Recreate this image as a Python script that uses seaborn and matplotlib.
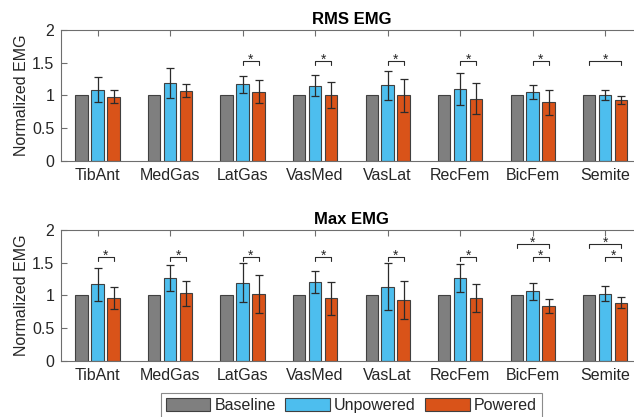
import pandas as pd
import matplotlib
matplotlib.use("Agg")
import matplotlib.pyplot as plt
import seaborn as sns

# =======================
# Data
# =======================
muscles = ["TibAnt", "MedGas", "LatGas", "VasMed", "VasLat", "RecFem", "BicFem", "Semite"]
conditions = ["Baseline", "Unpowered", "Powered"]

rms_baseline = [1, 1, 1, 1, 1, 1, 1, 1]
rms_unpowered = [1.09, 1.19, 1.17, 1.15, 1.155, 1.095, 1.06, 1.01]
rms_powered = [0.98, 1.07, 1.06, 1.005, 1.0, 0.95, 0.895, 0.93]
rms_unpowered_sd = [0.19, 0.23, 0.135, 0.165, 0.225, 0.245, 0.107, 0.08]
rms_powered_sd = [0.10, 0.10, 0.18, 0.20, 0.255, 0.235, 0.195, 0.06]

max_baseline = [1, 1, 1, 1, 1, 1, 1, 1]
max_unpowered = [1.17, 1.26, 1.195, 1.20, 1.13, 1.26, 1.06, 1.025]
max_powered = [0.96, 1.03, 1.02, 0.955, 0.93, 0.955, 0.84, 0.89]
max_unpowered_sd = [0.25, 0.20, 0.30, 0.17, 0.36, 0.215, 0.13, 0.115]
max_powered_sd = [0.17, 0.195, 0.295, 0.25, 0.295, 0.215, 0.11, 0.08]

# significance brackets: (muscle index, condition a, condition b, height)
rms_sig = [(2, 1, 2, 1.53), (3, 1, 2, 1.53), (4, 1, 2, 1.53), (5, 1, 2, 1.53),
           (6, 1, 2, 1.53), (7, 0, 2, 1.52)]
max_sig = [(0, 1, 2, 1.58), (1, 1, 2, 1.58), (2, 1, 2, 1.58), (3, 1, 2, 1.58),
           (4, 1, 2, 1.58), (5, 1, 2, 1.58), (6, 1, 2, 1.58), (6, 0, 2, 1.78),
           (7, 1, 2, 1.58), (7, 0, 2, 1.78)]

palette = ["#7f7f7f", "#4dbeee", "#d95319"]
text_col = "#262626"
axis_col = "#6e6e6e"

# =======================
# Style
# =======================
sns.set_style("ticks")
plt.rcParams["font.family"] = ["Liberation Sans", "DejaVu Sans"]
plt.rcParams["xtick.direction"] = "in"
plt.rcParams["ytick.direction"] = "in"


def long_form(base, unp, pwr):
    rows = []
    for vals, cond in zip([base, unp, pwr], conditions):
        for m, v in zip(muscles, vals):
            rows.append({"muscle": m, "condition": cond, "value": v})
    return pd.DataFrame(rows)


def draw_panel(ax, df, sds, sigs, title, legend):
    sns.barplot(data=df, x="muscle", y="value", hue="condition",
                order=muscles, hue_order=conditions, palette=palette,
                errorbar=None, width=0.66, gap=0.22, edgecolor="#404040",
                linewidth=0.8, saturation=1, legend=legend, ax=ax)

    # error bars on unpowered / powered bars
    for cont, sd in zip(ax.containers[1:], sds):
        xs = [p.get_x() + p.get_width() / 2 for p in cont.patches]
        ys = [p.get_height() for p in cont.patches]
        ax.errorbar(xs, ys, yerr=sd, fmt="none", ecolor="#2b2b2b",
                    elinewidth=0.9, capsize=3.2, capthick=0.9, zorder=5)

    # significance brackets
    for i, a, b, h in sigs:
        pa = ax.containers[a].patches[i]
        pb = ax.containers[b].patches[i]
        xa = pa.get_x() + pa.get_width() / 2
        xb = pb.get_x() + pb.get_width() / 2
        ax.plot([xa, xa, xb, xb], [h - 0.06, h, h, h - 0.06],
                color="#2b2b2b", lw=0.8)
        ax.text((xa + xb) / 2, h - 0.04, "*", ha="center", va="baseline",
                fontsize=10, color=text_col)

    ax.set_ylim(0, 2)
    ax.set_xlim(-0.5, 7.5)
    ax.set_yticks([0, 0.5, 1, 1.5, 2])
    ax.set_yticklabels(["0", "0.5", "1", "1.5", "2"])
    ax.set_xlabel("")
    ax.set_ylabel("Normalized EMG", fontsize=11.5, color=text_col, labelpad=2)
    ax.set_title(title, fontsize=12, fontweight="bold", color="black", pad=4)
    ax.tick_params(axis="both", labelsize=11.5, colors=text_col, length=4,
                   width=0.8, top=True, right=True, pad=5)
    ax.tick_params(axis="both", color=axis_col)
    for s in ax.spines.values():
        s.set_visible(True)
        s.set_color(axis_col)
        s.set_linewidth(0.8)


fig = plt.figure(figsize=(6.34, 4.17), dpi=100)
ax1 = fig.add_axes([0.0968, 0.614, 0.915, 0.314])
ax2 = fig.add_axes([0.0968, 0.135, 0.915, 0.3134])

draw_panel(ax1, long_form(rms_baseline, rms_unpowered, rms_powered),
           [rms_unpowered_sd, rms_powered_sd], rms_sig, "RMS EMG", False)
draw_panel(ax2, long_form(max_baseline, max_unpowered, max_powered),
           [max_unpowered_sd, max_powered_sd], max_sig, "Max EMG", True)

sns.move_legend(ax2, "upper center", bbox_to_anchor=(0.5, -0.249), ncol=3,
                title=None, frameon=True, fancybox=False, fontsize=11.5,
                handlelength=2.8, handleheight=0.9, handletextpad=0.25,
                columnspacing=0.6, borderpad=0.3, borderaxespad=0,
                edgecolor=axis_col)
leg = ax2.get_legend()
leg.get_frame().set_linewidth(0.8)
for t in leg.get_texts():
    t.set_color(text_col)

fig.savefig("out.png", dpi=100)
